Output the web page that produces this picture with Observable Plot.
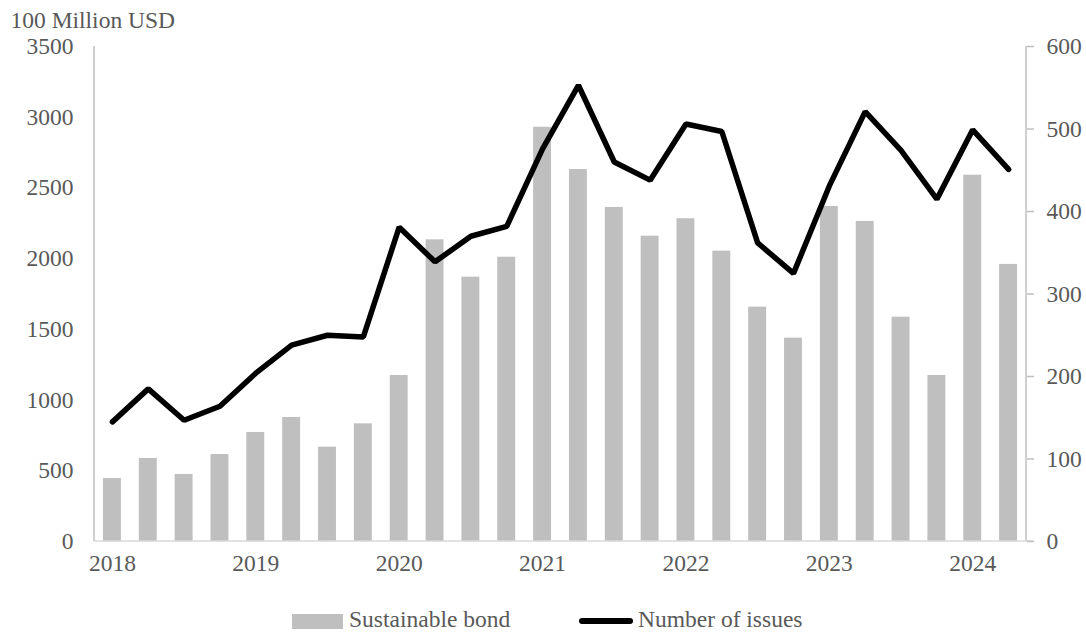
<!DOCTYPE html>
<html>
<head>
<meta charset="utf-8">
<script src="https://cdn.jsdelivr.net/npm/d3@7"></script>
<script src="https://cdn.jsdelivr.net/npm/@observablehq/plot@0.6"></script>
<style>
  body { margin: 0; background: #fff; font-family: "Liberation Serif", "Times New Roman", serif; }
  #legend { position: relative; width: 1086px; height: 43px; font-size: 23.5px; color: #595959; }
  #legend .sw { position: absolute; }
  #legend .lab { position: absolute; top: 18px; line-height: 1; white-space: nowrap; }
</style>
</head>
<body>
<div id="chart"></div>
<div id="legend">
  <div class="sw" style="left:292px; top:24px; width:51px; height:15px; background:#bfbfbf"></div>
  <div class="lab" style="left:349px">Sustainable bond</div>
  <div class="sw" style="left:579px; top:28px; width:54px; height:6px; background:#000; border-radius:3px"></div>
  <div class="lab" style="left:638px">Number of issues</div>
</div>
<script>
const quarters = ["2018Q1","2018Q2","2018Q3","2018Q4","2019Q1","2019Q2","2019Q3","2019Q4",
  "2020Q1","2020Q2","2020Q3","2020Q4","2021Q1","2021Q2","2021Q3","2021Q4",
  "2022Q1","2022Q2","2022Q3","2022Q4","2023Q1","2023Q2","2023Q3","2023Q4","2024Q1","2024Q2"];
const bondValues = [445,587,474,615,771,877,667,832,1174,2133,1869,2010,2929,2630,2362,2159,
  2282,2053,1657,1438,2369,2263,1586,1174,2590,1959];
const issueCounts = [145,185,147,164,204,238,250,248,381,339,370,382,476,553,460,438,
  506,497,362,325,431,521,474,415,499,451];
const yearTicks = ["2018Q1","2019Q1","2020Q1","2021Q1","2022Q1","2023Q1","2024Q1"];
const leftTicks = [0,500,1000,1500,2000,2500,3000,3500];
const rightTicks = [0,100,200,300,400,500,600];
const leftMax = 3500, rightMax = 600;

const data = quarters.map((q, i) => ({q, i, bond: bondValues[i], count: issueCounts[i]}));
const toLeft = v => v * leftMax / rightMax;

const W = 1086, ML = 94, MR = 60;

const axisLines = (index, scales, values, dims) => {
  const g = d3.create("svg:g").attr("stroke", "#bfbfbf").attr("stroke-width", 1.5);
  const x0 = dims.marginLeft, x1 = dims.width - dims.marginRight;
  const y0 = dims.marginTop, y1 = dims.height - dims.marginBottom;
  g.append("line").attr("x1", x0).attr("x2", x0).attr("y1", y0).attr("y2", y1);
  g.append("line").attr("x1", x1).attr("x2", x1).attr("y1", y0).attr("y2", y1);
  g.append("line").attr("x1", x0).attr("x2", x1 + 7).attr("y1", y1).attr("y2", y1).attr("stroke", "#d9d9d9");
  return g.node();
};

const serif = "'Liberation Serif', 'Times New Roman', serif";

const chart = Plot.plot({
  width: W,
  height: 590,
  marginLeft: ML,
  marginRight: MR,
  marginTop: 46,
  marginBottom: 49,
  style: {fontFamily: serif, fontSize: "23.5px", color: "#595959", background: "#fff"},
  x: {type: "linear", domain: [0, quarters.length]},
  y: {domain: [0, leftMax]},
  marks: [
    Plot.rectY(data, {x1: d => d.i + 0.25, x2: d => d.i + 0.75, y: "bond", fill: "#bfbfbf"}),
    axisLines,
    Plot.line(data, {x: d => d.i + 0.5, y: d => toLeft(d.count), stroke: "#000", strokeWidth: 5.5, strokeLinejoin: "miter", strokeLinecap: "round"}),
    Plot.axisX({ticks: yearTicks.map(q => quarters.indexOf(q) + 0.5), tickFormat: v => quarters[Math.floor(v)].slice(0, 4),
      tickSize: 0, tickPadding: 13, label: null, fill: "#595959", fontFamily: serif}),
    Plot.axisY({ticks: leftTicks, tickFormat: d => String(d), tickSize: 0, tickPadding: 21, label: null, fill: "#595959", fontFamily: serif}),
    Plot.axisY({anchor: "right", ticks: rightTicks.map(toLeft), tickFormat: d => String(Math.round(d * rightMax / leftMax)),
      tickSize: 7, tickPadding: 13, stroke: "#bfbfbf", strokeWidth: 1.5, label: null, fill: "#595959", textAnchor: "start", fontFamily: serif}),
    Plot.text(["100 Million USD"], {frameAnchor: "top-left", textAnchor: "start", lineAnchor: "bottom", dx: -84, dy: -19, fill: "#595959", fontFamily: serif})
  ]
});
document.getElementById("chart").appendChild(chart);
</script>
</body>
</html>
